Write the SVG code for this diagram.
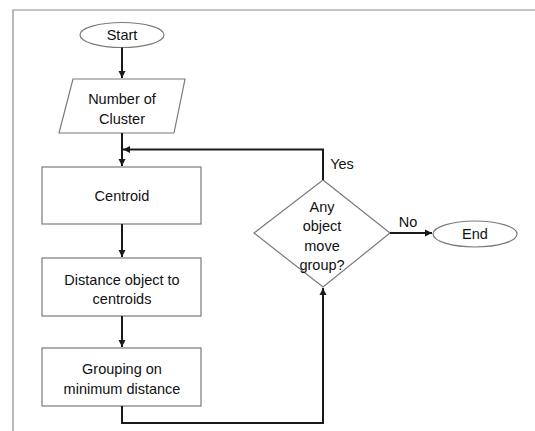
<svg xmlns="http://www.w3.org/2000/svg" width="535" height="431" viewBox="0 0 535 431">
<defs>
<marker id="ah" markerWidth="8" markerHeight="8" refX="7" refY="4" orient="auto" markerUnits="userSpaceOnUse">
<path d="M0,0.5 L7,4 L0,7.5 Z" fill="#1a1a1a"/>
</marker>
</defs>
<style>
.shape{fill:#fff;stroke:#7a7a7a;stroke-width:1.2}
.t{font-family:"Liberation Sans",Arial,sans-serif;font-size:14.5px;fill:#111;text-anchor:middle;dominant-baseline:central}
.c{fill:none;stroke:#1a1a1a;stroke-width:2}
.frame{fill:none;stroke:#8a8a8a;stroke-width:1.2}
</style>
<rect width="535" height="431" fill="#fff"/>
<path class="frame" d="M13,431 L13,10 L535,10"/>
<g id="start"><ellipse class="shape" cx="122" cy="35" rx="42" ry="12.5"/><text class="t" x="122" y="35">Start</text></g>
<g id="number"><polygon class="shape" points="73,79 185,79 174,133 59,133"/><text class="t" x="122" y="99">Number of</text><text class="t" x="122" y="119">Cluster</text></g>
<g id="centroid"><rect class="shape" x="42" y="167" width="159" height="57"/><text class="t" x="122" y="196">Centroid</text></g>
<g id="distance"><rect class="shape" x="42" y="258" width="159" height="58"/><text class="t" x="122" y="280">Distance object to</text><text class="t" x="122" y="299">centroids</text></g>
<g id="grouping"><rect class="shape" x="42" y="348" width="159" height="58"/><text class="t" x="122" y="369">Grouping on</text><text class="t" x="122" y="389">minimum distance</text></g>
<g id="decision"><polygon class="shape" points="323,180 390,233 323,287 254,233"/><text class="t" x="322" y="207">Any</text><text class="t" x="322" y="226">object</text><text class="t" x="322" y="246">move</text><text class="t" x="322" y="265">group?</text></g>
<g id="end"><ellipse class="shape" cx="475" cy="234" rx="42" ry="13"/><text class="t" x="475" y="234">End</text></g>
<g id="connectors">
<path class="c" d="M122,47.5 L122,78" marker-end="url(#ah)"/>
<path class="c" d="M122,133 L122,166" marker-end="url(#ah)"/>
<path class="c" d="M323,180 L323,149.5 L123,149.5" marker-end="url(#ah)"/>
<path class="c" d="M122,224 L122,257" marker-end="url(#ah)"/>
<path class="c" d="M122,316 L122,347" marker-end="url(#ah)"/>
<path class="c" d="M122,406 L122,423 L323,423 L323,288" marker-end="url(#ah)"/>
<path class="c" d="M390,233 L432,233" marker-end="url(#ah)"/>
<text class="t" x="342" y="164">Yes</text>
<text class="t" x="408" y="222">No</text>
</g>
</svg>
